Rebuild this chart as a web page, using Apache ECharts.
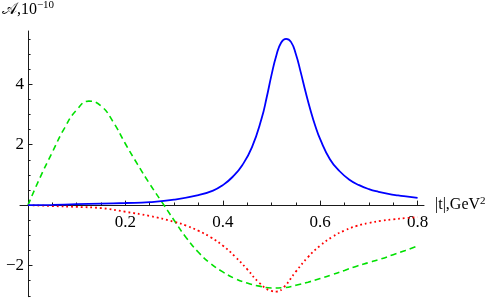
<!DOCTYPE html>
<html>
<head>
<meta charset="utf-8">
<script src="https://cdn.jsdelivr.net/npm/echarts@6/dist/echarts.min.js"></script>
<style>html,body{margin:0;padding:0;background:#fff}#c{width:491px;height:300px}</style>
</head>
<body>
<div id="c"></div>
<script>
// Data
var tBlue = [0,0.05,0.1,0.15,0.2,0.25,0.3,0.35,0.38,0.4,0.42,0.44,0.46,0.48,0.49,0.5,0.51,0.52,0.53,0.54,0.55,0.56,0.57,0.58,0.59,0.6,0.62,0.64,0.66,0.68,0.7,0.72,0.74,0.76,0.78,0.8];
var blueVals = [0,0.01,0.03,0.05,0.07,0.10,0.18,0.33,0.48,0.66,0.93,1.32,1.92,2.88,3.55,4.30,4.95,5.38,5.50,5.40,5.00,4.40,3.75,3.15,2.62,2.18,1.52,1.12,0.84,0.66,0.53,0.44,0.37,0.32,0.28,0.24];

var tGreen = [0,0.025,0.05,0.075,0.1,0.125,0.15,0.175,0.2,0.225,0.25,0.275,0.3,0.325,0.35,0.375,0.4,0.425,0.45,0.475,0.5,0.525,0.55,0.575,0.6,0.625,0.65,0.675,0.7,0.725,0.75,0.775,0.8];
var greenVals = [0,0.92,1.75,2.55,3.15,3.44,3.28,2.75,2.03,1.35,0.70,0.10,-0.50,-1.08,-1.56,-1.93,-2.21,-2.43,-2.58,-2.68,-2.74,-2.73,-2.65,-2.55,-2.43,-2.30,-2.16,-2.02,-1.90,-1.78,-1.64,-1.50,-1.35];

var tRed = [0,0.05,0.1,0.15,0.2,0.25,0.3,0.325,0.35,0.375,0.4,0.425,0.45,0.475,0.5,0.51,0.525,0.55,0.575,0.6,0.625,0.65,0.675,0.7,0.725,0.75,0.775,0.8];
var redVals = [0,-0.03,-0.06,-0.10,-0.22,-0.36,-0.55,-0.68,-0.85,-1.06,-1.34,-1.70,-2.12,-2.57,-2.84,-2.86,-2.72,-2.20,-1.72,-1.34,-1.05,-0.84,-0.69,-0.59,-0.52,-0.47,-0.43,-0.40];

var xMajor = [0.2,0.4,0.6,0.8];
var xMinor = [0.05,0.1,0.15,0.25,0.3,0.35,0.45,0.5,0.55,0.65,0.7,0.75];
var yMajor = [-2,2,4];
var yMinor = [-3,-2.5,-1.5,-1,-0.5,0.5,1,1.5,2.5,3,3.5,4.5,5,5.5];

var X_MIN = -0.0164, X_MAX = 0.8132, Y_MIN = -3.03, Y_MAX = 5.76;

function pairs(t, v){ return t.map(function(x,i){ return [x, v[i]]; }); }

var W = 491, H = 300;
var G = {left:20, right:67, top:31, bottom:3.3};
var gridW = W - G.left - G.right, gridH = H - G.top - G.bottom;
// place the axes where the other axis is zero (labels included)
var xOff = -((0 - Y_MIN) / (Y_MAX - Y_MIN)) * gridH;
var yOff = -((0 - X_MIN) / (X_MAX - X_MIN)) * gridW;

var font = '"Liberation Serif","Times New Roman",serif';
var axisColor = '#1a1a1a';

function xAx(ticks, len, main){
  return {
    type:'value', min:X_MIN, max:X_MAX, position:'bottom', offset:xOff,
    axisLine:{show:main, onZero:false, lineStyle:{color:axisColor, width:1}},
    axisTick:{show:true, inside:true, length:len, customValues:ticks, lineStyle:{color:axisColor}},
    axisLabel:{show:main, customValues:xMajor, margin:9, color:'#000', fontFamily:font, fontSize:17,
      formatter:function(v){ return String(Math.round(v*10)/10); }},
    splitLine:{show:false},
    name: main ? '{a||t|,GeV}{s|2}' : '', nameLocation:'end', nameGap:11,
    nameTextStyle:{color:'#000', fontFamily:font, fontSize:16, verticalAlign:'middle',
      rich:{a:{fontFamily:font, fontSize:16, color:'#000'}, s:{fontFamily:font, fontSize:11, color:'#000', verticalAlign:'top', padding:[0,0,9,0]}}}
  };
}
function yAx(ticks, len, main){
  return {
    type:'value', min:Y_MIN, max:Y_MAX, position:'left', offset:yOff,
    axisLine:{show:main, onZero:false, lineStyle:{color:axisColor, width:1}},
    axisTick:{show:true, inside:true, length:len, customValues:ticks, lineStyle:{color:axisColor}},
    axisLabel:{show:main, customValues:yMajor, margin:4, color:'#000', fontFamily:font, fontSize:17,
      formatter:function(v){ return v<0 ? '\u2212'+Math.abs(v) : String(v); }},
    splitLine:{show:false},
    name: main ? '{a|\uD835\uDC9C,10}{s|\u221210}' : '', nameLocation:'end', nameGap:11,
    nameTextStyle:{color:'#000', fontFamily:font, fontSize:16,
      rich:{a:{fontFamily:font, fontSize:16, color:'#000'}, s:{fontFamily:font, fontSize:11, color:'#000', padding:[0,0,9,0]}}}
  };
}

var chart = echarts.init(document.getElementById('c'), null, {renderer:'canvas'});
chart.setOption({
  animation:false,
  backgroundColor:'#fff',
  grid:{left:G.left, right:G.right, top:G.top, bottom:G.bottom, containLabel:false, outerBoundsMode:'none'},
  xAxis:[xAx(xMajor, 4.5, true), xAx(xMinor, 2.6, false)],
  yAxis:[yAx(yMajor, 4.5, true), yAx(yMinor, 2.6, false)],
  series:[{
    type:'line', name:'blue', data:pairs(tBlue, blueVals), xAxisIndex:0, yAxisIndex:0,
    showSymbol:false, smooth:0.5, lineStyle:{color:'#0000ff', width:1.8}, z:3
  },{
    type:'line', name:'green', data:pairs(tGreen, greenVals), xAxisIndex:0, yAxisIndex:0,
    showSymbol:false, smooth:0.5, lineStyle:{color:'#00e000', width:1.6, type:[6,4]}, z:2
  },{
    type:'line', name:'red', data:pairs(tRed, redVals), xAxisIndex:0, yAxisIndex:0,
    showSymbol:false, smooth:0.5, lineStyle:{color:'#ff0000', width:1.8, type:[1.8,3]}, z:2
  }]
});
</script>
</body>
</html>
